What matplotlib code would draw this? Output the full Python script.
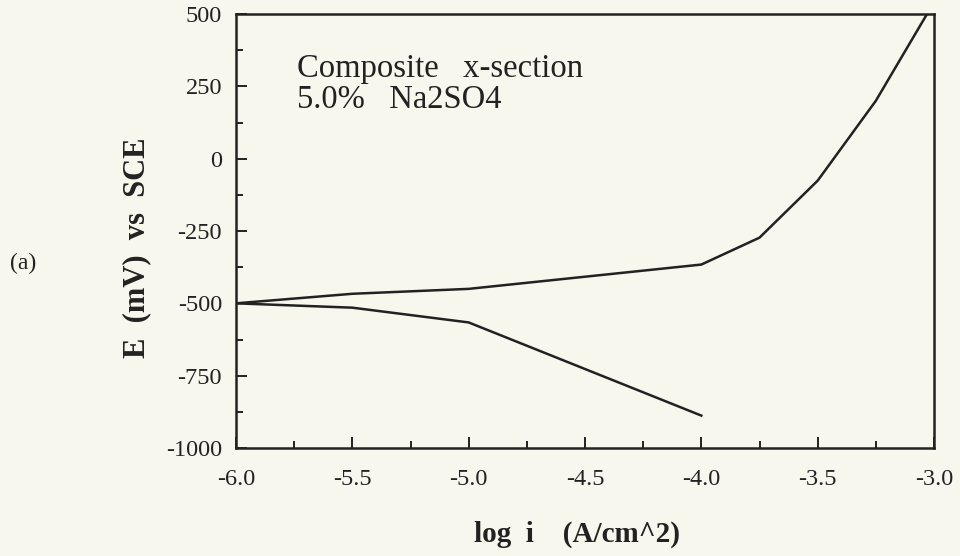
import matplotlib
matplotlib.use("Agg")
import matplotlib.pyplot as plt
from matplotlib.ticker import MultipleLocator, FormatStrFormatter

# Data
anodic_logi = [-6.0, -5.5, -5.0, -4.0, -3.75, -3.5, -3.25, -3.03]
anodic_E = [-500, -467, -450, -366, -273, -76, 200, 500]
cathodic_logi = [-6.0, -5.5, -5.0, -4.0]
cathodic_E = [-500, -515, -566, -888]

x_ticks = [-6.0, -5.5, -5.0, -4.5, -4.0, -3.5, -3.0]
y_ticks = [500, 250, 0, -250, -500, -750, -1000]

bg = "#f7f7ed"
ink = "#222222"
serif = ["Liberation Serif", "DejaVu Serif"]

fig = plt.figure(figsize=(9.6, 5.56), dpi=100, facecolor=bg)
W, H = 960, 556
l, r, t, b = 236, 934, 14, 448
ax = fig.add_axes([l / W, 1 - b / H, (r - l) / W, (b - t) / H])
ax.set_facecolor(bg)

ax.plot(anodic_logi, anodic_E, color=ink, lw=1.8, solid_joinstyle="miter")
ax.plot(cathodic_logi, cathodic_E, color=ink, lw=1.8, solid_joinstyle="miter")

ax.set_xlim(-6.0, -3.0)
ax.set_ylim(-1000, 500)
ax.set_xticks(x_ticks)
ax.set_yticks(y_ticks)
ax.xaxis.set_major_formatter(FormatStrFormatter("%.1f"))
ax.yaxis.set_major_formatter(FormatStrFormatter("%d"))
ax.xaxis.set_minor_locator(MultipleLocator(0.25))
ax.yaxis.set_minor_locator(MultipleLocator(125))

for s in ax.spines.values():
    s.set_linewidth(1.8)
    s.set_color(ink)

ax.tick_params(which="both", direction="in", top=False, right=False, color=ink, width=1.4)
ax.tick_params(which="major", length=8)
ax.tick_params(which="minor", length=5)
ax.tick_params(axis="x", which="major", pad=15, labelsize=17.5, labelcolor=ink)
ax.tick_params(axis="y", which="major", pad=10, labelsize=17.5, labelcolor=ink)
for lab in ax.get_xticklabels() + ax.get_yticklabels():
    lab.set_family(serif)

# Inner text (placed in figure pixel coordinates)
fig.text(297 / W, 1 - 77 / H, "Composite   x-section", fontsize=23.5, family=serif,
         color=ink, ha="left", va="baseline")
fig.text(297 / W, 1 - 108 / H, "5.0%   Na2SO4", fontsize=23.5, family=serif,
         color=ink, ha="left", va="baseline")

# Axis labels
fig.text(577 / W, 1 - 542 / H, "log  i    (A/cm^2)", fontsize=21, family=serif,
         fontweight="bold", color=ink, ha="center", va="baseline")
fig.text(137 / W, 1 - 248 / H, "E  (mV)  vs  SCE", fontsize=22, family=serif,
         fontweight="bold", color=ink, ha="center", va="center", rotation=90)

fig.text(23 / W, 1 - 263 / H, "(a)", fontsize=17, family=serif,
         color=ink, ha="center", va="center")

fig.savefig("out.png", dpi=100, facecolor=bg)
